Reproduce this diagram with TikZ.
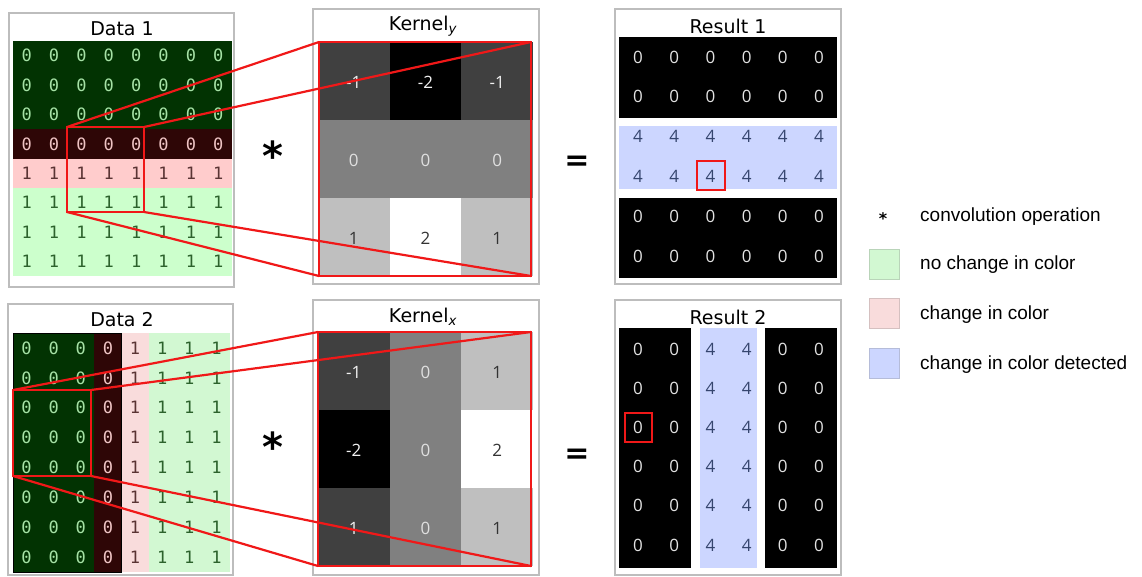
\documentclass[tikz,border=0pt]{standalone}
\usepackage{fontspec}
\setmainfont{DejaVu Sans}
\newfontfamily\monofnt{DejaVu Sans Mono}
\newfontfamily\numfnt{Open Sans}
\newfontfamily\legfnt{Liberation Sans}
\usetikzlibrary{fit}

% cell colours of the input images
\definecolor{dgfill}{HTML}{023302}
\definecolor{dgtext}{HTML}{A6E2A6}
\definecolor{drfill}{HTML}{2E0606}
\definecolor{drtext}{HTML}{EFC4C4}
\definecolor{pkfill}{HTML}{FFCCCC}
\definecolor{pkfillb}{HTML}{F9DCDC}
\definecolor{pktext}{HTML}{5A3434}
\definecolor{lgfill}{HTML}{CCFFCC}
\definecolor{lgfillb}{HTML}{D2F8D2}
\definecolor{lgtext}{HTML}{2C622C}
% result colours
\definecolor{bluefill}{HTML}{CCD6FF}
\definecolor{bluetext}{HTML}{35456E}
\definecolor{zerotext}{HTML}{E2E2E2}
% kernel shades
\definecolor{kdark}{gray}{0.25}
\definecolor{kmid}{gray}{0.5}
\definecolor{klight}{gray}{0.75}
\definecolor{kwtext}{HTML}{F2F2F2}
\definecolor{kgtext}{HTML}{E0E0E0}
\definecolor{kdtext}{HTML}{333333}
% frames and highlights
\definecolor{panelgray}{HTML}{BDBDBD}
\definecolor{zoomred}{HTML}{F01818}

\begin{document}
\begin{tikzpicture}[x=1pt,y=-1pt,
  panel/.style={draw=panelgray, line width=1.3pt, fill=white},
  title/.style={font=\fontsize{19}{22}\selectfont, inner sep=0},
  dnum/.style={font=\monofnt\fontsize{17}{19}\selectfont, inner sep=0},
  knum/.style={font=\numfnt\fontsize{17}{20}\selectfont, inner sep=0},
  rnum/.style={font=\numfnt\fontsize{17}{19}\selectfont, inner sep=0},
  zoombox/.style={draw=zoomred, line width=2.4pt, inner sep=0, outer sep=0},
  zoomline/.style={draw=zoomred, line width=2.2pt},
  starop/.style={font=\bfseries\fontsize{40}{40}\selectfont, inner sep=0},
  eqop/.style={font=\bfseries\fontsize{30}{30}\selectfont, inner sep=0},
  legtext/.style={font=\legfnt\fontsize{19}{22}\selectfont, anchor=west, inner sep=0},
  swatch/.style={minimum width=30pt, minimum height=30pt, inner sep=0, line width=0.8pt}]

\useasboundingbox (0,0) rectangle (1142,576);

% ---------- panels ----------
\draw[panel] (9,13) rectangle (234,287);
\draw[panel] (313,9) rectangle (539,284);
\draw[panel] (615,9) rectangle (841,284);
\draw[panel] (8,304) rectangle (233,575);
\draw[panel] (313,300) rectangle (539,575);
\draw[panel] (615,300) rectangle (841,575);

\node[title] (t-d1) at (122,29) {Data 1};
\node[title] (t-ky) at (423,26) {Kernel\textsubscript{\itshape y}};
\node[title] (t-r1) at (728,26) {Result 1};
\node[title] (t-d2) at (122,320) {Data 2};
\node[title] (t-kx) at (423,317) {Kernel\textsubscript{\itshape x}};
\node[title] (t-r2) at (728,317) {Result 2};

% ---------- Data 1: rows ----------
\foreach \r/\f/\x/\v in {0/dgfill/dgtext/0,1/dgfill/dgtext/0,2/dgfill/dgtext/0,
                         3/drfill/drtext/0,4/pkfill/pktext/1,
                         5/lgfill/lgtext/1,6/lgfill/lgtext/1,7/lgfill/lgtext/1} {
  \fill[\f] (13,41+\r*29.375) rectangle (232,41+\r*29.375+29.375);
  \foreach \c in {0,...,7}
    \node[dnum, text=\x] (d1-\r-\c) at (13+\c*27.375+13.69,41+\r*29.375+14.69) {\v};
}

% ---------- Data 2: columns ----------
\foreach \c/\f/\x/\v in {0/dgfill/dgtext/0,1/dgfill/dgtext/0,2/dgfill/dgtext/0,
                         3/drfill/drtext/0,4/pkfillb/pktext/1,
                         5/lgfillb/lgtext/1,6/lgfillb/lgtext/1,7/lgfillb/lgtext/1} {
  \fill[\f] (13+\c*27.125,333) rectangle (13+\c*27.125+27.125,572);
  \foreach \r in {0,...,7}
    \node[dnum, text=\x] (d2-\r-\c) at (13+\c*27.125+13.56,333+\r*29.875+14.94) {\v};
}
\draw[black, line width=0.8pt] (13,333) rectangle (121.5,572);

% ---------- Kernel y ----------
\foreach \r/\c/\f/\x/\v in {0/0/kdark/kwtext/-1,0/1/black/kwtext/-2,0/2/kdark/kwtext/-1,
                            1/0/kmid/kgtext/0,1/1/kmid/kgtext/0,1/2/kmid/kgtext/0,
                            2/0/klight/kdtext/1,2/1/white/kdtext/2,2/2/klight/kdtext/1} {
  \fill[\f] (318+\c*71.67,42+\r*78) rectangle (318+\c*71.67+71.67,42+\r*78+78);
  \node[knum, text=\x] (ky-\r-\c) at (318+\c*71.67+35.83,42+\r*78+40) {\v};
}

% ---------- Kernel x ----------
\foreach \r/\c/\f/\x/\v in {0/0/kdark/kwtext/-1,0/1/kmid/kgtext/0,0/2/klight/kdtext/1,
                            1/0/black/kwtext/-2,1/1/kmid/kgtext/0,1/2/white/kdtext/2,
                            2/0/kdark/kwtext/1,2/1/kmid/kgtext/0,2/2/klight/kdtext/1} {
  \fill[\f] (318+\c*71.67,332+\r*78) rectangle (318+\c*71.67+71.67,332+\r*78+78);
  \node[knum, text=\x] (kx-\r-\c) at (318+\c*71.67+35.83,332+\r*78+40) {\v};
}

% ---------- Result 1 ----------
\fill[black] (619,37) rectangle (837,118);
\fill[bluefill] (619,126) rectangle (837,189);
\fill[black] (619,198) rectangle (837,278);
\foreach \r/\x/\v in {0/zerotext/0,1/zerotext/0,2/bluetext/4,3/bluetext/4,4/zerotext/0,5/zerotext/0}
  \foreach \c in {0,...,5}
    \node[rnum, text=\x] (r1-\r-\c) at (638+\c*36.2,57+\r*39.8) {\v};

% ---------- Result 2 ----------
\fill[black] (619,328) rectangle (691,568);
\fill[bluefill] (700,328) rectangle (757,568);
\fill[black] (765,328) rectangle (837,568);
\foreach \c/\x/\v in {0/zerotext/0,1/zerotext/0,2/bluetext/4,3/bluetext/4,4/zerotext/0,5/zerotext/0}
  \foreach \r in {0,...,5}
    \node[rnum, text=\x] (r2-\r-\c) at (638+\c*36.2,349+\r*39.2) {\v};

% ---------- operators ----------
\node[starop] (star-1) at (273,156) {*};
\node[eqop] (eq-1) at (577,163) {=};
\node[starop] (star-2) at (273,447) {*};
\node[eqop] (eq-2) at (577,456) {=};

% ---------- highlighted windows and their projections ----------
\node[zoombox, fit={(67,127)(144,212)}] (win-1) {};
\node[zoombox, fit={(319,42)(531,276)}] (kbox-1) {};
\node[zoombox, fit={(697,161)(725,190)}] (out-1) {};
\draw[zoomline] (win-1.north west) -- (kbox-1.north west);
\draw[zoomline] (win-1.north east) -- (kbox-1.north east);
\draw[zoomline] (win-1.south west) -- (kbox-1.south west);
\draw[zoomline] (win-1.south east) -- (kbox-1.south east);

\node[zoombox, fit={(13,390)(91,476)}] (win-2) {};
\node[zoombox, fit={(318,332)(531,566)}] (kbox-2) {};
\node[zoombox, fit={(625,413)(652,442)}] (out-2) {};
\draw[zoomline] (win-2.north west) -- (kbox-2.north west);
\draw[zoomline] (win-2.north east) -- (kbox-2.north east);
\draw[zoomline] (win-2.south west) -- (kbox-2.south west);
\draw[zoomline] (win-2.south east) -- (kbox-2.south east);

% ---------- legend ----------
\node[font=\bfseries\fontsize{16}{16}\selectfont, inner sep=0] (leg-star) at (883,219) {*};
\node[legtext] (leg-t1) at (920,217) {convolution operation};
\node[swatch, fill=lgfillb, draw=lgfillb!70!gray] (leg-g) at (884,264) {};
\node[legtext] (leg-t2) at (920,265) {no change in color};
\node[swatch, fill=pkfillb, draw=pkfillb!70!gray] (leg-p) at (884,313.5) {};
\node[legtext] (leg-t3) at (920,315) {change in color};
\node[swatch, fill=bluefill, draw=bluefill!70!gray] (leg-b) at (884,363.5) {};
\node[legtext] (leg-t4) at (920,365) {change in color detected};

\end{tikzpicture}
\end{document}
